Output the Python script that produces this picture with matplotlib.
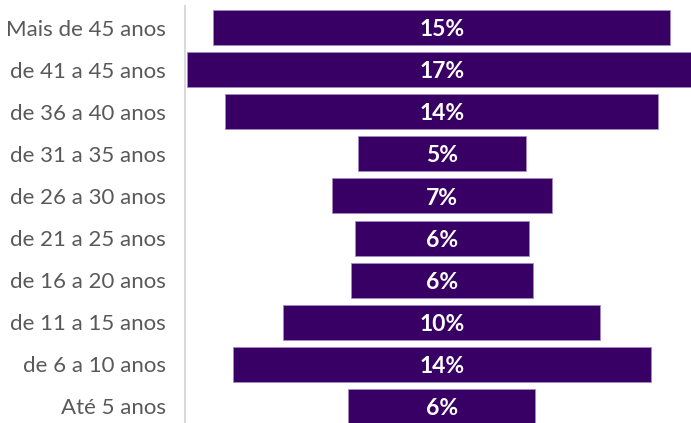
import matplotlib
matplotlib.use("Agg")
import matplotlib.pyplot as plt

# faixas etarias (de cima para baixo) e valores em %
categorias = ["Mais de 45 anos", "de 41 a 45 anos", "de 36 a 40 anos", "de 31 a 35 anos",
              "de 26 a 30 anos", "de 21 a 25 anos", "de 16 a 20 anos", "de 11 a 15 anos",
              "de 6 a 10 anos", "Até 5 anos"]
valores = [14.88, 16.62, 14.11, 5.48, 7.15, 5.65, 5.93, 10.32, 13.62, 6.09]
rotulos = ["15%", "17%", "14%", "5%", "7%", "6%", "6%", "10%", "14%", "6%"]

cor = "#380065"

fig = plt.figure(figsize=(6.91, 4.23), dpi=100)
ax = fig.add_axes([185 / 691, -4.5 / 423, 506 / 691, 421 / 423])

y = list(range(len(categorias)))
esq = [-v / 2 for v in valores]
ax.barh(y, valores, left=esq, height=0.83, color=cor, edgecolor="#a28cc4", linewidth=0.6)

for yi, r in zip(y, rotulos):
    ax.text(0, yi + 0.05, r, ha="center", va="center", color="white",
            fontsize=16.5, fontweight="bold", family="Lato")

ax.set_xlim(-8.365, 8.117)
ax.set_ylim(9.5, -0.5)
ax.set_yticks(y)
ax.set_yticklabels(categorias, fontsize=16, color="#595959", family="Lato")
ax.tick_params(axis="y", length=0, pad=14)
ax.set_xticks([])
for s in ["top", "right", "bottom"]:
    ax.spines[s].set_visible(False)
ax.spines["left"].set_color("#d9d9d9")
ax.spines["left"].set_linewidth(1.5)

fig.savefig("out.png", dpi=100)
